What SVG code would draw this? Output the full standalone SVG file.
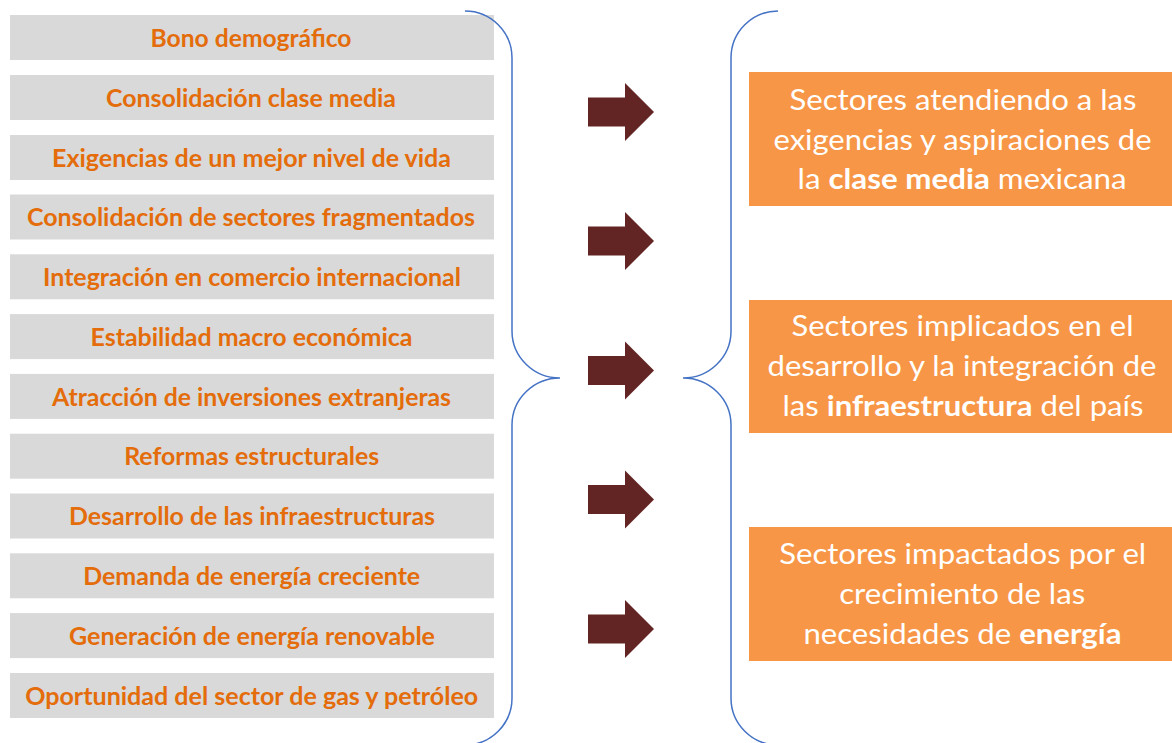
<svg xmlns="http://www.w3.org/2000/svg" width="1172" height="743" viewBox="0 0 1172 743">
<defs>
<style>
.gbox{fill:#D9D9D9}
.gtxt{font-family:Lato,"Open Sans","Liberation Sans",sans-serif;font-weight:700;font-size:24px;fill:#E46C0A;text-anchor:middle}
.obox{fill:#F79646}
.otxt{font-family:Lato,"Open Sans","Liberation Sans",sans-serif;font-weight:400;font-size:29px;fill:#FFFFFF;text-anchor:middle}
.b{font-weight:700}
.brace{fill:none;stroke:#4472C4;stroke-width:1.5}
.arrow{fill:#632523}
</style>
</defs>
<rect width="1172" height="743" fill="#FFFFFF"/>
<g id="left-items">
<g id="item1"><rect class="gbox" x="10" y="15" width="484" height="45"/><text class="gtxt" x="251" y="47" textLength="201" lengthAdjust="spacingAndGlyphs">Bono demográfico</text></g>
<g id="item2"><rect class="gbox" x="10" y="75" width="484" height="45"/><text class="gtxt" x="251" y="106.5" textLength="290" lengthAdjust="spacingAndGlyphs">Consolidación clase media</text></g>
<g id="item3"><rect class="gbox" x="10" y="135" width="484" height="45"/><text class="gtxt" x="251.5" y="166.5" textLength="399" lengthAdjust="spacingAndGlyphs">Exigencias de un mejor nivel de vida</text></g>
<g id="item4"><rect class="gbox" x="10" y="194.5" width="484" height="45"/><text class="gtxt" x="251" y="226" textLength="448" lengthAdjust="spacingAndGlyphs">Consolidación de sectores fragmentados</text></g>
<g id="item5"><rect class="gbox" x="10" y="254.3" width="484" height="45"/><text class="gtxt" x="252" y="286" textLength="418" lengthAdjust="spacingAndGlyphs">Integración en comercio internacional</text></g>
<g id="item6"><rect class="gbox" x="10" y="314.1" width="484" height="45"/><text class="gtxt" x="251.5" y="345.7" textLength="322" lengthAdjust="spacingAndGlyphs">Estabilidad macro económica</text></g>
<g id="item7"><rect class="gbox" x="10" y="373.9" width="484" height="45"/><text class="gtxt" x="251.5" y="405.5" textLength="399" lengthAdjust="spacingAndGlyphs">Atracción de inversiones extranjeras</text></g>
<g id="item8"><rect class="gbox" x="10" y="433.7" width="484" height="45"/><text class="gtxt" x="251.7" y="465.3" textLength="255" lengthAdjust="spacingAndGlyphs">Reformas estructurales</text></g>
<g id="item9"><rect class="gbox" x="10" y="493.5" width="484" height="45"/><text class="gtxt" x="252" y="525.1" textLength="366" lengthAdjust="spacingAndGlyphs">Desarrollo de las infraestructuras</text></g>
<g id="item10"><rect class="gbox" x="10" y="553.3" width="484" height="45"/><text class="gtxt" x="251.7" y="584.9" textLength="337" lengthAdjust="spacingAndGlyphs">Demanda de energía creciente</text></g>
<g id="item11"><rect class="gbox" x="10" y="613.1" width="484" height="45"/><text class="gtxt" x="252" y="644.7" textLength="366" lengthAdjust="spacingAndGlyphs">Generación de energía renovable</text></g>
<g id="item12"><rect class="gbox" x="10" y="673" width="484" height="45"/><text class="gtxt" x="251.7" y="704.6" textLength="453" lengthAdjust="spacingAndGlyphs">Oportunidad del sector de gas y petróleo</text></g>
</g>
<g id="connectors">
<path class="brace" d="M465 11 A47 47 0 0 1 512 58 L512 331 A48 47 0 0 0 560 378 A48 47 0 0 0 512 425 L512 698 A47 47 0 0 1 465 745"/>
<path class="brace" d="M778 11 A47 47 0 0 0 731 58 L731 331 A48 47 0 0 1 683 378 A48 47 0 0 1 731 425 L731 698 A47 47 0 0 0 778 745"/>
<polygon class="arrow" points="588,97.5 625,97.5 625,83 654,112 625,141 625,126.5 588,126.5"/>
<polygon class="arrow" points="588,226.5 625,226.5 625,212 654,241 625,270 625,255.5 588,255.5"/>
<polygon class="arrow" points="588,356 625,356 625,341.5 654,370.5 625,399.5 625,385 588,385"/>
<polygon class="arrow" points="588,485 625,485 625,470.5 654,499.5 625,528.5 625,514 588,514"/>
<polygon class="arrow" points="588,614.5 625,614.5 625,600 654,629 625,658 625,643.5 588,643.5"/>
</g>
<g id="sector1">
<rect class="obox" x="749" y="72" width="423" height="134"/>
<text class="otxt" x="963" y="110" textLength="347" lengthAdjust="spacingAndGlyphs">Sectores atendiendo a las</text>
<text class="otxt" x="962.5" y="149.5" textLength="378" lengthAdjust="spacingAndGlyphs">exigencias y aspiraciones de</text>
<text class="otxt" x="962" y="188.5" textLength="329" lengthAdjust="spacingAndGlyphs">la <tspan class="b">clase media</tspan> mexicana</text>
</g>
<g id="sector2">
<rect class="obox" x="749" y="300" width="423" height="133"/>
<text class="otxt" x="962.5" y="336" textLength="342" lengthAdjust="spacingAndGlyphs">Sectores implicados en el</text>
<text class="otxt" x="962" y="376" textLength="389" lengthAdjust="spacingAndGlyphs">desarrollo y la integración de</text>
<text class="otxt" x="963" y="416" textLength="361" lengthAdjust="spacingAndGlyphs">las <tspan class="b">infraestructura</tspan> del país</text>
</g>
<g id="sector3">
<rect class="obox" x="749" y="527" width="423" height="134"/>
<text class="otxt" x="962.7" y="563.5" textLength="367" lengthAdjust="spacingAndGlyphs">Sectores impactados por el</text>
<text class="otxt" x="962.2" y="603.5" textLength="246" lengthAdjust="spacingAndGlyphs">crecimiento de las</text>
<text class="otxt" x="962.5" y="643.5" textLength="318" lengthAdjust="spacingAndGlyphs">necesidades de <tspan class="b">energía</tspan></text>
</g>
</svg>
